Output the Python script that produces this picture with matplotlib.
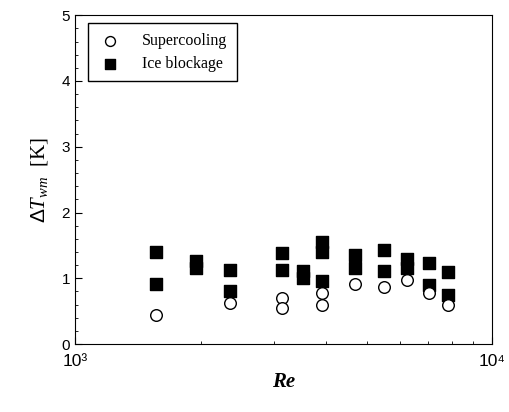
import matplotlib.pyplot as plt
from matplotlib.ticker import MultipleLocator, FixedLocator, NullFormatter

plt.rcParams['mathtext.fontset'] = 'custom'
plt.rcParams['mathtext.rm'] = 'Liberation Sans'
plt.rcParams['mathtext.it'] = 'Liberation Serif:italic'

# Re values of each column and the measured temperature differences
re_super = [1560, 2350, 3130, 3130, 3910, 3910, 4700, 5500, 6250, 7050, 7830]
dt_super = [0.44, 0.62, 0.70, 0.55, 0.78, 0.60, 0.92, 0.86, 0.97, 0.78, 0.60]

re_ice = [1560, 1560, 1950, 1950, 2350, 2350, 3130, 3130, 3530, 3530,
          3910, 3910, 3910, 4700, 4700, 5500, 5500, 6250, 6250, 7050, 7050,
          7830, 7830]
dt_ice = [1.40, 0.92, 1.27, 1.15, 1.13, 0.81, 1.38, 1.13, 1.11, 1.00,
          1.55, 1.40, 0.96, 1.35, 1.15, 1.43, 1.11, 1.30, 1.15, 1.23, 0.90,
          1.09, 0.75]
x_ticklabels = ['10\u00b3', '10\u2074']

fig = plt.figure(figsize=(5.1, 4.12), dpi=100)
ax = fig.add_axes([0.147, 0.165, 0.818, 0.798])

ax.scatter(re_super, dt_super, s=70, marker='o', facecolors='white',
           edgecolors='black', linewidths=1.0, label='Supercooling', zorder=3)
ax.scatter(re_ice, dt_ice, s=80, marker='s', color='black',
           label='Ice blockage', zorder=2)

ax.set_xscale('log')
ax.set_xlim(1000, 10000)
ax.set_ylim(0, 5)

ax.xaxis.set_major_locator(FixedLocator([1000, 10000]))
ax.xaxis.set_minor_locator(FixedLocator([2000, 3000, 4000, 5000, 6000, 7000, 8000, 9000]))
ax.xaxis.set_minor_formatter(NullFormatter())
ax.yaxis.set_major_locator(MultipleLocator(1))
ax.yaxis.set_minor_locator(MultipleLocator(0.2))
ax.set_xticklabels(x_ticklabels)

ax.tick_params(which='both', direction='in', labelsize=11)
ax.tick_params(which='major', length=5)
ax.tick_params(which='minor', length=2.5)
ax.tick_params(axis='x', pad=7, labelsize=12.5)
for lab in ax.get_xticklabels() + ax.get_yticklabels():
    lab.set_fontfamily(['Liberation Sans', 'DejaVu Sans'])

ax.set_xlabel('Re', fontfamily='Liberation Serif', fontstyle='italic',
              fontweight='bold', fontsize=15, labelpad=2)
ax.set_ylabel(r'$\Delta T_{wm}$  [K]', fontfamily='Liberation Serif',
              fontsize=15, labelpad=8)

leg = ax.legend(loc='upper left', bbox_to_anchor=(0.031, 0.976), borderaxespad=0,
                frameon=True, fancybox=False, edgecolor='black', framealpha=1,
                prop={'family': 'Liberation Serif', 'size': 11.5},
                markerscale=0.85, handletextpad=1.2, borderpad=0.6,
                labelspacing=0.45, handlelength=1.6)
leg.get_frame().set_linewidth(1.0)

fig.savefig('out.png', dpi=100)
